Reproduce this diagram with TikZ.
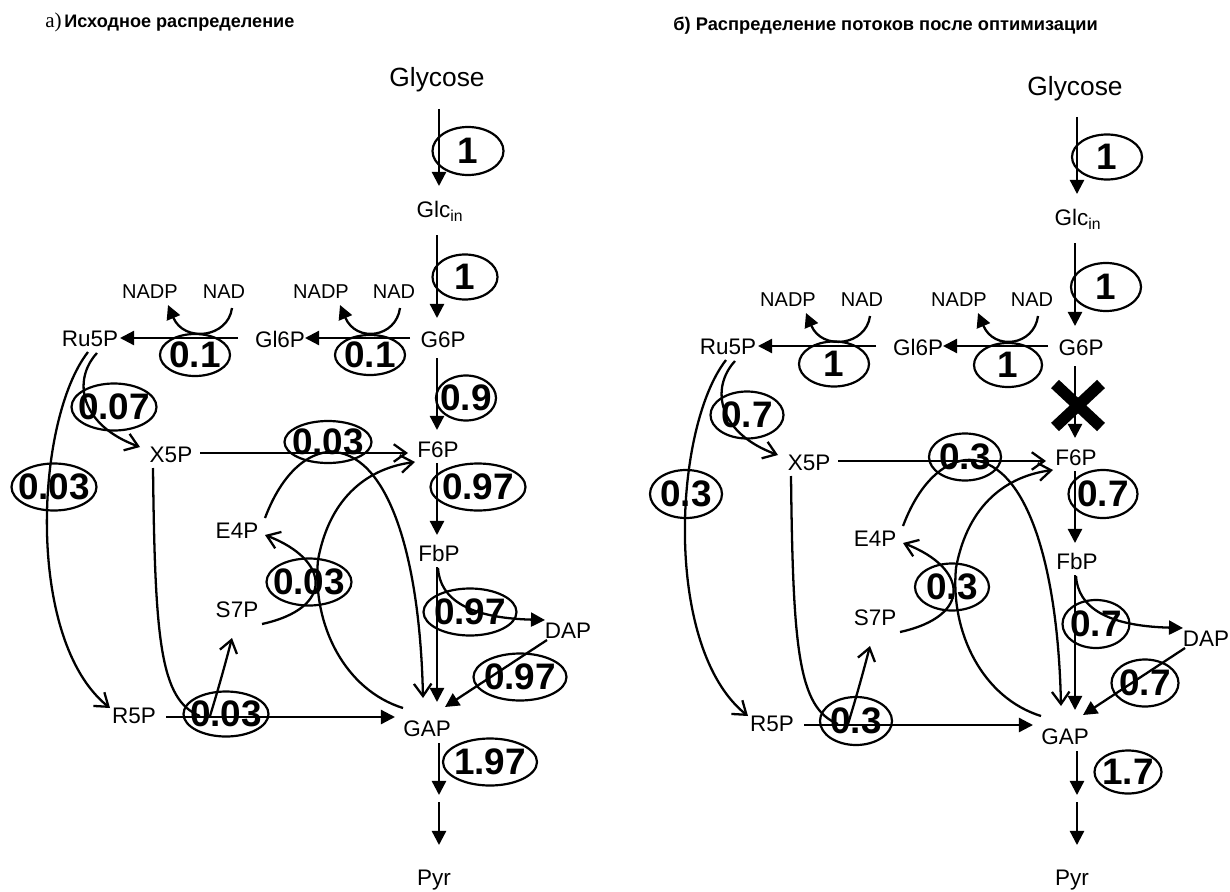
\documentclass[tikz,border=0pt]{standalone}
\usepackage{fontspec}
\setmainfont{Liberation Sans}
\newfontfamily\titleserif{Liberation Serif}
\usetikzlibrary{arrows.meta,shapes.geometric,calc}

\tikzset{
 met/.style={anchor=base, inner sep=0pt, font=\fontsize{12.8}{14}\selectfont},
 cof/.style={anchor=base, inner sep=0pt, font=\fontsize{11.4}{13}\selectfont},
 big/.style={anchor=base, inner sep=0pt, font=\fontsize{15}{17}\selectfont},
 flux/.style={draw, ellipse, line width=1.25pt, inner sep=0pt, font=\fontsize{21}{23}\selectfont\bfseries},
 conn/.style={line width=1.3pt},
 tri/.style={conn, -{Triangle[length=8pt,width=8pt]}},
 barb/.style={conn, -{Straight Barb[length=7pt,width=10pt]}},
 crossmark/.style={line width=6.5pt},
}

\newcommand{\fluxnode}[6]{\node[flux,minimum width=#4*0.02cm,minimum height=#5*0.02cm] (#1) at (#2,#3) {\makebox[0pt]{#6}};}

\newcommand{\panel}[3]{%
\node[big] (#1Glycose) at ({437+#2},{87+#3}) {Glycose};
\node[met] (#1Glcin) at ({440+#2},{217+#3}) {Glc\textsubscript{in}};
\node[met] (#1G6P) at ({443+#2},{347+#3}) {G6P};
\node[met] (#1Gl6P) at ({280+#2},{347+#3}) {Gl6P};
\node[met] (#1Ru5P) at ({90+#2},{346+#3}) {Ru5P};
\node[cof] (#1NADPb) at ({321+#2},{298+#3}) {NADP};
\node[cof] (#1NADb) at ({394+#2},{298+#3}) {NAD};
\node[cof] (#1NADPa) at ({150+#2},{298+#3}) {NADP};
\node[cof] (#1NADa) at ({224+#2},{298+#3}) {NAD};
\node[met] (#1F6P) at ({438+#2},{457+#3}) {F6P};
\node[met] (#1X5P) at ({171+#2},{462+#3}) {X5P};
\node[met] (#1E4P) at ({237+#2},{538+#3}) {E4P};
\node[met] (#1FbP) at ({439+#2},{561+#3}) {FbP};
\node[met] (#1S7P) at ({237+#2},{617+#3}) {S7P};
\node[met] (#1DAP) at ({568+#2},{638+#3}) {DAP};
\node[met] (#1R5P) at ({134+#2},{723+#3}) {R5P};
\node[met] (#1GAP) at ({427+#2},{736+#3}) {GAP};
\node[met] (#1Pyr) at ({434+#2},885) {Pyr};
\coordinate (#1mid) at ({439+#2},798);
\coordinate (#1tk) at ({200+#2},{716+#3});
\draw[tri] ($(#1Glycose.base)+(2,22)$) -- ($(#1Glcin.base)+(-1,-31)$);
\draw[tri] ($(#1Glcin.base)+(-3,18)$) -- ($(#1G6P.base)+(-6,-29)$);
\draw[tri] ($(#1G6P.base)+(-33,-9)$) -- ($(#1Gl6P.base)+(25,-9)$);
\draw[tri] ($(#1Gl6P.base)+(-42,-9)$) -- ($(#1Ru5P.base)+(30,-8)$);
\draw[tri] ($(#1NADb.base)+(6,10)$) .. controls ({396+#2},{338+#3}) and ({356+#2},{343+#3}) .. ($(#1NADPb.base)+(19,7)$);
\draw[tri] ($(#1NADa.base)+(8,10)$) .. controls ({228+#2},{338+#3}) and ({184+#2},{343+#3}) .. ($(#1NADPa.base)+(18,7)$);
\draw[tri] ($(#1G6P.base)+(-6,11)$) -- ($(#1F6P.base)+(-1,-27)$);
\draw[tri] ($(#1F6P.base)+(-1,6)$) -- ($(#1FbP.base)+(-2,-26)$);
\draw[tri] ($(#1FbP.base)+(-2,6)$) -- ($(#1GAP.base)+(10,-34)$);
\draw[tri] ($(#1FbP.base)+(-1,7)$) .. controls ({440+#2},{600+#3}) and ({470+#2},{618+#3}) .. ($(#1DAP.base)+(-23,-18)$);
\draw[tri] ($(#1DAP.base)+(-21,2)$) -- ($(#1GAP.base)+(18,-29)$);
\draw[tri] ($(#1GAP.base)+(12,7)$) -- ($(#1mid)+(0,-3)$);
\draw[tri] ($(#1mid)+(0,4)$) -- ($(#1Pyr.base)+(5,-40)$);
\draw[barb] ($(#1X5P.base)+(29,-9)$) -- ($(#1F6P.base)+(-30,-4)$);
\draw[tri] ($(#1R5P.base)+(32,-6)$) -- ($(#1GAP.base)+(-32,-19)$);
\draw[barb] ($(#1Ru5P.base)+(7,7)$) .. controls ({72+#2},{380+#3}) and ({80+#2},{425+#3}) .. ($(#1X5P.base)+(-31,-15)$);
\draw[barb] ($(#1Ru5P.base)+(-2,6)$) .. controls ({35+#2},{420+#3}) and ({25+#2},{640+#3}) .. ($(#1R5P.base)+(-24,-15)$);
\draw[conn] ($(#1X5P.base)+(-18,6)$) .. controls ({155+#2},{640+#3}) and ({160+#2},{700+#3}) .. (#1tk);
\draw[barb] ($(#1tk)+(10,0)$) .. controls ({218+#2},{690+#3}) and ({225+#2},{665+#3}) .. ($(#1S7P.base)+(-5,21)$);
\draw[barb] ($(#1S7P.base)+(25,7)$) .. controls ({335+#2},{608+#3}) and ({330+#2},{560+#3}) .. ($(#1E4P.base)+(28,-3)$);
\draw[barb] ($(#1E4P.base)+(28,-20)$) .. controls ({285+#2},{465+#3}) and ({315+#2},{450+#3}) .. ({335+#2},{452+#3}) .. controls ({390+#2},{458+#3}) and ({420+#2},{560+#3}) .. ($(#1GAP.base)+(-4,-38)$);
\draw[barb] ($(#1GAP.base)+(-24,-28)$) .. controls ({345+#2},{690+#3}) and ({312+#2},{625+#3}) .. ({318+#2},{560+#3}) .. controls ({330+#2},{495+#3}) and ({370+#2},{468+#3}) .. ($(#1F6P.base)+(-23,5)$);
}

\begin{document}
\begin{tikzpicture}[x=0.02cm,y=-0.02cm]
\useasboundingbox (0,0) rectangle (1230,892);
\fill[white] (0,0) rectangle (1230,892);

% titles
\node[anchor=base west, inner sep=0pt] (titleA) at (45,28) {{\titleserif\fontsize{12}{13}\selectfont а)}\hspace{1.5pt}{\fontsize{10.3}{12}\selectfont\bfseries Исходное распределение}};
\node[anchor=base west, inner sep=0pt] (titleB) at (673,31) {\fontsize{10.4}{12}\selectfont\bfseries б) Распределение потоков после оптимизации};

% panels
\panel{L}{0}{0}
\panel{R}{638}{8}

% left fluxes
\fluxnode{a1}{468}{151}{71}{48}{1}
\fluxnode{a2}{465}{277}{65}{45}{1}
\fluxnode{a3}{195}{355}{70}{42}{0.1}
\fluxnode{a4}{370}{355}{70}{40}{0.1}
\fluxnode{a5}{466}{398}{60}{45}{0.9}
\fluxnode{a6}{114}{407}{85}{47}{0.07}
\fluxnode{a7}{54}{487}{85}{47}{0.03}
\fluxnode{a8}{328}{442}{87}{42}{0.03}
\fluxnode{a9}{478}{487}{95}{47}{0.97}
\fluxnode{a10}{309}{582}{85}{47}{0.03}
\fluxnode{a11}{470}{612}{93}{47}{0.97}
\fluxnode{a12}{520}{677}{93}{47}{0.97}
\fluxnode{a13}{226}{714}{85}{45}{0.03}
\fluxnode{a14}{490}{762}{94}{47}{1.97}

% right fluxes
\fluxnode{b1}{1107}{157}{70}{45}{1}
\fluxnode{b2}{1106}{287}{70}{48}{1}
\fluxnode{b3}{834}{364}{70}{45}{1}
\fluxnode{b4}{1008}{365}{68}{44}{1}
\fluxnode{b6}{747}{415}{73}{47}{0.7}
\fluxnode{b7}{686}{494}{72}{48}{0.3}
\fluxnode{b8}{965}{457}{72}{47}{0.3}
\fluxnode{b9}{1103}{494}{69}{48}{0.7}
\fluxnode{b10}{952}{587}{74}{47}{0.3}
\fluxnode{b11}{1096}{624}{67}{48}{0.7}
\fluxnode{b12}{1145}{683}{67}{47}{0.7}
\fluxnode{b13}{856}{721}{72}{48}{0.3}
\fluxnode{b14}{1128}{772}{67}{43}{1.7}

% blocked reaction
\coordinate (xc) at (1078,405);
\draw[crossmark] ($(xc)+(-23,-21)$) -- ($(xc)+(23,22)$) ($(xc)+(23,-21)$) -- ($(xc)+(-23,22)$);
\end{tikzpicture}
\end{document}
